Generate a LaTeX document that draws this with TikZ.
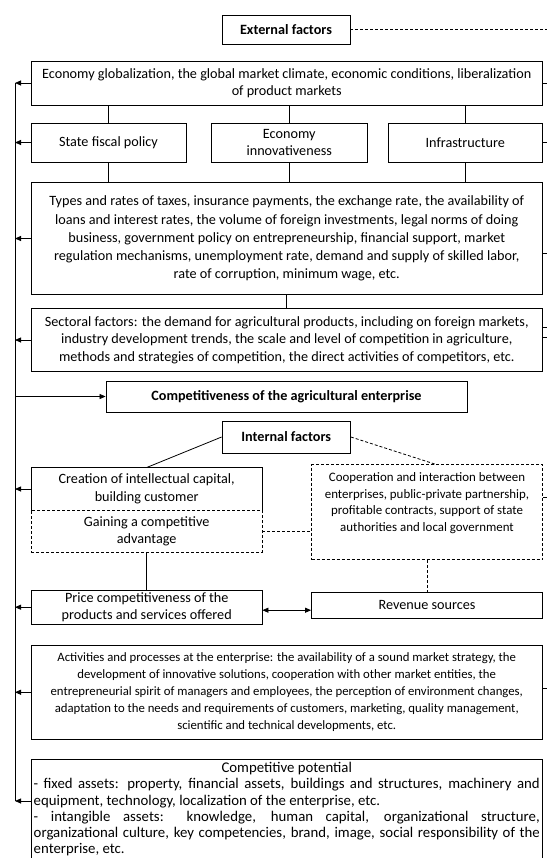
\documentclass[tikz,border=0pt]{standalone}
\usepackage{fontspec}
\setmainfont{Carlito}
\usetikzlibrary{arrows.meta,calc}
\begin{document}
\begin{tikzpicture}[x=1bp,y=-1bp,
  box/.style={draw, line width=0.8bp, align=center, inner sep=0pt, font=\fontsize{14.2bp}{17.5bp}\selectfont},
  dbox/.style={box, dash pattern=on 3bp off 2bp},
  conn/.style={line width=0.8bp},
  dconn/.style={conn, dash pattern=on 3bp off 2bp},
  tip/.tip={Triangle[length=6bp,width=5bp]},
  arr/.style={conn, -tip},
  darr/.style={conn, tip-tip},
]
\useasboundingbox (0,0) rectangle (547,858);
\clip (0,0) rectangle (547,858);

\coordinate (L) at (15,83);
\coordinate (Lbot) at (15,801);
\coordinate (R) at (547,0);

\node[box, minimum width=128bp, minimum height=29bp] (ext) at (286,29.5) {\textbf{External factors}};
\node[box, minimum width=511.5bp, minimum height=44bp] (glob) at (286.75,83)
  {Economy globalization, the global market climate, economic conditions, liberalization\\ of product markets};
\node[box, minimum width=155bp, minimum height=39bp] (fiscal) at (108.5,142.5) {State fiscal policy};
\node[box, minimum width=155.5bp, minimum height=39bp] (innov) at (289.25,142.5) {Economy\\ innovativeness};
\node[box, minimum width=154.5bp, minimum height=39bp] (infra) at (465.25,142.5) {Infrastructure};
\node[box, minimum width=511.5bp, minimum height=112bp, font=\fontsize{14.2bp}{18.2bp}\selectfont] (taxes) at (286.75,238.5)
  {Types and rates of taxes, insurance payments, the exchange rate, the availability of\\
   loans and interest rates, the volume of foreign investments, legal norms of doing\\
   business, government policy on entrepreneurship, financial support, market\\
   regulation mechanisms, unemployment rate, demand and supply of skilled labor,\\
   rate of corruption, minimum wage, etc.};
\node[box, minimum width=511.5bp, minimum height=63bp] (sector) at (286.75,340)
  {Sectoral factors: the demand for agricultural products, including on foreign markets,\\
   industry development trends, the scale and level of competition in agriculture,\\
   methods and strategies of competition, the direct activities of competitors, etc.};
\node[box, minimum width=361bp, minimum height=31bp] (comp) at (286.5,396.5)
  {\textbf{Competitiveness of the agricultural enterprise}};
\node[box, minimum width=128.5bp, minimum height=32bp] (int) at (286.25,437) {\textbf{Internal factors}};
\node[box, draw=none, minimum width=230.6bp, minimum height=42.2bp] (create) at (146.7,489)
  {Creation of intellectual capital,\\ building customer};
\node[dbox, minimum width=230.6bp, minimum height=42.5bp] (gain) at (146.7,531.25)
  {Gaining a competitive\\ advantage};
\node[dbox, minimum width=231bp, minimum height=95bp, text depth=20bp,
  font=\fontsize{12.9bp}{16.6bp}\selectfont] (coop) at (427,512)
  {Cooperation and interaction between\\ enterprises, public-private partnership,\\
   profitable contracts, support of state\\ authorities and local government};
\node[box, minimum width=230.6bp, minimum height=34.4bp] (price) at (146.7,607.2)
  {Price competitiveness of the\\ products and services offered};
\node[box, minimum width=231bp, minimum height=25.4bp] (rev) at (427,605.3) {Revenue sources};
\node[box, minimum width=511.5bp, minimum height=94.5bp,
  font=\fontsize{12.75bp}{17bp}\selectfont] (act) at (286.75,692.25)
  {Activities and processes at the enterprise: the availability of a sound market strategy, the\\
   development of innovative solutions, cooperation with other market entities, the\\
   entrepreneurial spirit of managers and employees, the perception of environment changes,\\
   adaptation to the needs and requirements of customers, marketing, quality management,\\
   scientific and technical developments, etc.};
\node[box, anchor=north, minimum width=511.5bp, text width=506bp, align=justify, inner xsep=2.75bp, inner ysep=3bp,
  font=\fontsize{14.8bp}{16.2bp}\selectfont] (pot) at (286.75,759)
  {{\centering Competitive potential\par}
   - fixed assets: property, financial assets, buildings and structures, machinery and\linebreak
   equipment, technology, localization of the enterprise, etc.\par
   - intangible assets: knowledge, human capital, organizational structure,\linebreak
   organizational culture, key competencies, brand, image, social responsibility of the\linebreak
   enterprise, etc.};

% creation box: three solid sides (bottom is the dashed top of gain)
\draw[conn] (create.south west) -- (create.north west) -- (create.north east) -- (create.south east);

% internal connectors
\draw[dconn] (ext.east) -- (ext.east -| R);
\draw[conn] (glob.south -| fiscal) -- (fiscal.north);
\draw[conn] (glob.south -| innov) -- (innov.north);
\draw[conn] (glob.south -| infra) -- (infra.north);
\draw[conn] (fiscal.south) -- (fiscal.south |- taxes.north);
\draw[conn] (innov.south) -- (innov.south |- taxes.north);
\draw[conn] (infra.south) -- (infra.south |- taxes.north);
\draw[conn] (taxes.south) -- (sector.north);
\draw[conn] (int.west) -- (create.north);
\draw[dconn] (int.east) -- ([xshift=8bp]coop.north);
\draw[dconn] (gain.east) -- (gain.east -| coop.west);
\draw[conn] (gain.south) -- (price.north);
\draw[dconn] (coop.south) -- (coop.south |- rev.north);
\draw[darr] ([yshift=-3bp]price.east) -- ([yshift=-3bp]price.east -| rev.west);

% left feedback line
\draw[conn] (L) -- (Lbot);
\draw[arr] (glob.west) -- (glob.west -| L);
\draw[arr] (fiscal.west) -- (fiscal.west -| L);
\draw[arr] (taxes.west) -- (taxes.west -| L);
\draw[arr] (sector.west) -- (sector.west -| L);
\draw[arr] (comp.west -| L) -- (comp.west);
\draw[arr] (create.west) -- (create.west -| L);
\draw[arr] (price.west) -- (price.west -| L);
\draw[arr] (act.west) -- (act.west -| L);
\draw[arr] (Lbot -| pot.west) -- (Lbot);

% right stubs
\draw[conn] (glob.east) -- (glob.east -| R);
\draw[conn] (infra.east) -- (infra.east -| R);
\draw[conn] ([yshift=-14.5bp]taxes.east) -- ([yshift=-14.5bp]taxes.east -| R);
\draw[conn] ([yshift=13bp]sector.east) -- ([yshift=13bp]sector.east -| R);
\draw[conn] ([yshift=3bp]sector.east) -- ([yshift=3bp]sector.east -| R);
\draw[conn] ([yshift=15bp]coop.east) -- ([yshift=15bp]coop.east -| R);
\draw[conn] ([yshift=4bp]act.east) -- ([yshift=4bp]act.east -| R);
\end{tikzpicture}
\end{document}
